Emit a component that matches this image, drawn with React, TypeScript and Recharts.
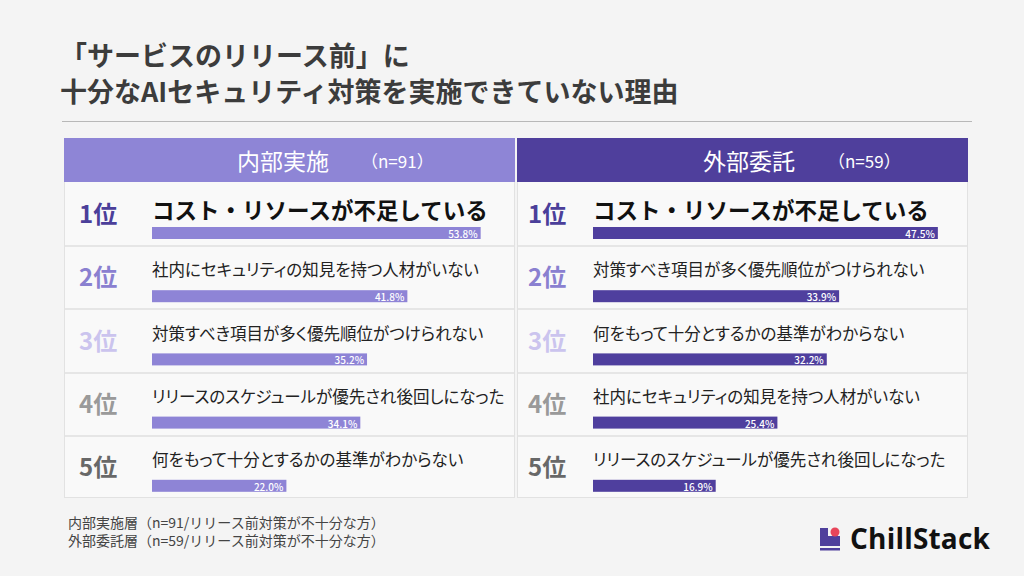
import { BarChart, Bar, XAxis, YAxis } from "recharts";

const ranks = ["1位", "2位", "3位", "4位", "5位"];

const internalReasons = [
  "コスト・リソースが不足している",
  "社内にセキュリティの知見を持つ人材がいない",
  "対策すべき項目が多く優先順位がつけられない",
  "リリースのスケジュールが優先され後回しになった",
  "何をもって十分とするかの基準がわからない",
];
const internalValues = [53.8, 41.8, 35.2, 34.1, 22.0];

const externalReasons = [
  "コスト・リソースが不足している",
  "対策すべき項目が多く優先順位がつけられない",
  "何をもって十分とするかの基準がわからない",
  "社内にセキュリティの知見を持つ人材がいない",
  "リリースのスケジュールが優先され後回しになった",
];
const externalValues = [47.5, 33.9, 32.2, 25.4, 16.9];

const FONT = '"Noto Sans CJK JP", "Noto Sans", sans-serif';
const RANK_COLORS = ["#4b3f9a", "#8a80d0", "#cbc4ee", "#9a9a9a", "#686868"];
const ROW_H = 63.2;
const BAR_OFFSET = 19; // bar sits below the row centre

type PanelProps = {
  left: number;
  title: string;
  n: string;
  titleX: number;
  nX: number;
  headColor: string;
  barColor: string;
  reasons: string[];
  values: number[];
  axisWidth: number;
  rankX: number;
  maxX: number;
  rightMargin: number;
};

function Panel(p: PanelProps) {
  const data = ranks.map((r, i) => ({
    rank: r,
    label: p.reasons[i],
    value: p.values[i],
  }));

  const Tick = (props: any) => {
    const { y, index } = props;
    const first = index === 0;
    return (
      <g>
        <text
          x={p.rankX}
          y={y - 1}
          dominantBaseline="central"
          fontSize={24}
          fontWeight={700}
          fill={RANK_COLORS[index]}
          fontFamily={FONT}
        >
          {ranks[index]}
        </text>
        <text
          x={p.axisWidth}
          y={first ? y - 5 : y - 7.5}
          dominantBaseline="central"
          fontSize={first ? 22.5 : 16.5}
          fontWeight={first ? 700 : 400}
          fill={first ? "#111" : "#222"}
          fontFamily={FONT}
          style={first ? undefined : { fontFeatureSettings: '"palt"' }}
        >
          {data[index].label}
        </text>
      </g>
    );
  };

  const BarShape = (props: any) => {
    const { x, y, width, height, value } = props;
    const by = y + BAR_OFFSET;
    return (
      <g>
        <rect x={x} y={by} width={width} height={height} fill={p.barColor} />
        <text
          x={x + width - 3}
          y={by + height / 2 + 0.5}
          textAnchor="end"
          dominantBaseline="central"
          fontSize={10}
          fontWeight={500}
          fill="#fff"
          fontFamily={FONT}
        >
          {`${value.toFixed(1)}%`}
        </text>
      </g>
    );
  };

  return (
    <div
      style={{
        position: "absolute",
        left: p.left,
        top: 138,
        width: 451,
        height: 360,
        border: "1px solid #e2e2e2",
        boxSizing: "border-box",
        background: "#f9f9f9",
      }}
    >
      <div
        style={{
          position: "absolute",
          left: -1,
          top: -1,
          width: 451,
          height: 44,
          background: p.headColor,
          color: "#fff",
          fontFamily: FONT,
        }}
      >
        <span style={{ position: "absolute", left: p.titleX, top: 5, fontSize: 23 }}>
          {p.title}
        </span>
        <span style={{ position: "absolute", left: p.nX, top: 10, fontSize: 17 }}>
          {p.n}
        </span>
      </div>
      {ranks.slice(1).map((r, i) => (
        <div
          key={r}
          style={{
            position: "absolute",
            left: 0,
            right: 0,
            top: 43 + ROW_H * (i + 1),
            height: 2,
            background: "#e6e6e6",
          }}
        />
      ))}
      <div style={{ position: "absolute", left: -1, top: 43 }}>
        <BarChart
          width={451}
          height={316}
          data={data}
          layout="vertical"
          margin={{ top: 0, right: p.rightMargin, bottom: 0, left: 0 }}
        >
          <XAxis type="number" domain={[0, p.maxX]} hide />
          <YAxis
            type="category"
            dataKey="rank"
            width={p.axisWidth}
            axisLine={false}
            tickLine={false}
            tick={<Tick />}
            interval={0}
          />
          <Bar
            dataKey="value"
            barSize={12}
            shape={<BarShape />}
            isAnimationActive={false}
          />
        </BarChart>
      </div>
    </div>
  );
}

export default function App() {
  return (
    <div
      style={{
        position: "absolute",
        left: 0,
        top: 0,
        width: 1024,
        height: 576,
        background: "#f4f4f4",
        fontFamily: FONT,
        overflow: "hidden",
      }}
    >
      <div
        style={{
          position: "absolute",
          left: 60,
          top: 37,
          fontSize: 27,
          fontWeight: 700,
          lineHeight: "36px",
          color: "#3c3c3c",
        }}
      >
        <div>「サービスのリリース前」に</div>
        <div>十分なAIセキュリティ対策を実施できていない理由</div>
      </div>
      <div
        style={{
          position: "absolute",
          left: 62,
          top: 121,
          width: 910,
          height: 1,
          background: "#b8b8b8",
        }}
      />
      <Panel
        left={64}
        title="内部実施"
        n="（n=91）"
        titleX={173}
        nX={297}
        headColor="#8e85d6"
        barColor="#8e84d6"
        reasons={internalReasons}
        values={internalValues}
        axisWidth={88}
        rankX={15}
        maxX={55}
        rightMargin={27}
      />
      <Panel
        left={517}
        title="外部委託"
        n="（n=59）"
        titleX={186}
        nX={311}
        headColor="#4f3f9c"
        barColor="#4f3f9e"
        reasons={externalReasons}
        values={externalValues}
        axisWidth={76}
        rankX={11}
        maxX={50}
        rightMargin={12}
      />
      <div
        style={{
          position: "absolute",
          left: 68,
          top: 513,
          fontSize: 14,
          lineHeight: "18px",
          color: "#444",
        }}
      >
        <div>内部実施層（n=91/リリース前対策が不十分な方）</div>
        <div>外部委託層（n=59/リリース前対策が不十分な方）</div>
      </div>
      <svg
        style={{ position: "absolute", left: 818, top: 526 }}
        width={30}
        height={26}
      >
        <path d="M2 2 H10 V10 H22 V20 H2 Z" fill="#4f3f9c" />
        <circle cx={17} cy={6} r={4.5} fill="#e8455a" />
        <rect x={2} y={22} width={20} height={2.5} fill="#4f3f9c" />
      </svg>
      <div
        style={{
          position: "absolute",
          left: 850,
          top: 519,
          fontSize: 28,
          fontWeight: 700,
          color: "#111",
          fontFamily: '"Open Sans", "Noto Sans", sans-serif',
          letterSpacing: 0.2,
        }}
      >
        ChillStack
      </div>
    </div>
  );
}
